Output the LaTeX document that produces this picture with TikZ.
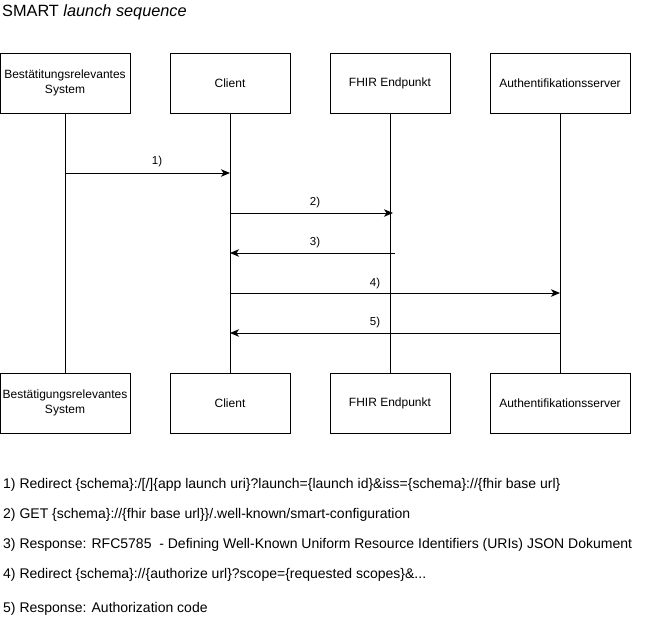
\documentclass[tikz,border=0pt]{standalone}
\usepackage{fontspec}
\setmainfont{Liberation Sans}
\usetikzlibrary{arrows.meta}
\tikzset{
  actor/.style={draw, line width=1pt, minimum width=#1, minimum height=60pt, inner sep=0pt, align=center, font=\fontsize{12}{15.5}\selectfont},
  actor/.default=120pt,
  lifeline/.style={line width=1pt},
  msg/.style={line width=1pt, -{Stealth[length=9pt,width=7.5pt,inset=2.5pt]}},
  lbl/.style={font=\fontsize{11.5}{14}\selectfont, inner sep=0pt},
  note/.style={font=\fontsize{14}{16}\selectfont, anchor=west, inner sep=0pt},
}
\begin{document}
\begin{tikzpicture}[x=1pt,y=-1pt]
\useasboundingbox (0,0) rectangle (671,619);
% title
\node[anchor=west, inner sep=0pt, font=\fontsize{16.3}{19}\selectfont] (title) at (2,12) {SMART \textit{launch sequence}};
% top actors
\node[actor=130pt] (a1) at (65,83) {Bestätitungsrelevantes\\System};
\node[actor] (a2) at (230,83) {Client};
\node[actor] (a3) at (390,83) {FHIR Endpunkt};
\node[actor=140pt] (a4) at (560,83) {Authentifikationsserver};
% bottom actors
\node[actor=130pt] (b1) at (65,403) {Bestätigungsrelevantes\\System};
\node[actor] (b2) at (230,403) {Client};
\node[actor] (b3) at (390,403) {FHIR Endpunkt};
\node[actor=140pt] (b4) at (560,403) {Authentifikationsserver};
% lifelines
\draw[lifeline] (a1.south) -- (b1.north);
\draw[lifeline] (a2.south) -- (b2.north);
\draw[lifeline] (a3.south) -- (b3.north);
\draw[lifeline] (a4.south) -- (b4.north);
% message coordinates
\coordinate (m1s) at (65,173);  \coordinate (m1e) at (230,173);
\coordinate (m2s) at (230,213); \coordinate (m2e) at (393,213);
\coordinate (m3s) at (395,253); \coordinate (m3e) at (230,253);
\coordinate (m4s) at (230,293); \coordinate (m4e) at (560,293);
\coordinate (m5s) at (560,333); \coordinate (m5e) at (230,333);
\draw[msg] (m1s) -- (m1e);
\draw[msg] (m2s) -- (m2e);
\draw[msg] (m3s) -- (m3e);
\draw[msg] (m4s) -- (m4e);
\draw[msg] (m5s) -- (m5e);
\node[lbl] (l1) at (157,162) {1)};
\node[lbl] (l2) at (315,203) {2)};
\node[lbl] (l3) at (315,243) {3)};
\node[lbl] (l4) at (375,284) {4)};
\node[lbl] (l5) at (375,323) {5)};
% notes
\node[note] (n1) at (3,485) {1) Redirect \{schema\}:/[/]\{app launch uri\}?launch=\{launch id\}\&iss=\{schema\}://\{fhir base url\}};
\node[note] (n2) at (3,515) {2) GET \{schema\}://\{fhir base url\}\}/.well-known/smart-configuration};
\node[note] (n3) at (3,545) {3) Response: RFC5785\ \ - Defining Well-Known Uniform Resource Identifiers (URIs) JSON Dokument};
\node[note] (n4) at (3,575) {4) Redirect \{schema\}://\{authorize url\}?scope=\{requested scopes\}\&...};
\node[note] (n5) at (3,609) {5) Response: Authorization code};
\end{tikzpicture}
\end{document}
